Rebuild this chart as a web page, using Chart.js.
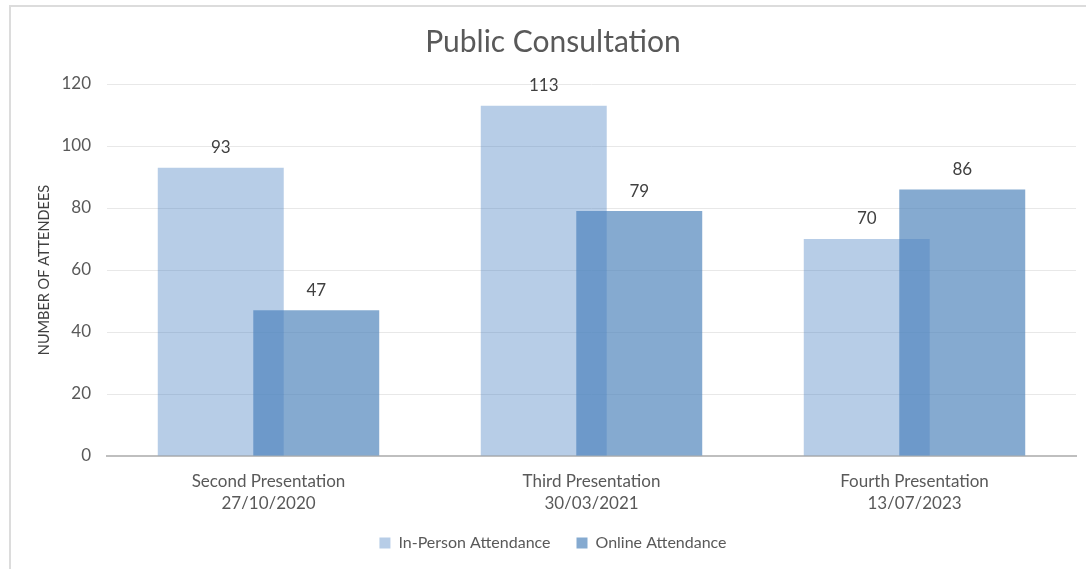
<!DOCTYPE html>
<html>
<head>
<meta charset="utf-8">
<script src="https://cdn.jsdelivr.net/npm/chart.js@4.4.0/dist/chart.umd.min.js"></script>
<style>
  html, body { margin: 0; padding: 0; background: #fff; }
  #wrap { position: relative; width: 1086px; height: 569px; overflow: hidden; }
  #frame { position: absolute; left: 9px; top: 5px; width: 1100px; height: 600px;
           border-top: 2px solid #dcdcdc; border-left: 2px solid #dcdcdc; }
  #c { position: absolute; left: 0; top: 0; }
</style>
</head>
<body>
<div id="wrap">
  <div id="frame"></div>
  <canvas id="c" width="1086" height="569"></canvas>
</div>
<script>
var categories = [
    ["Second Presentation", "27/10/2020"],
    ["Third Presentation", "30/03/2021"],
    ["Fourth Presentation", "13/07/2023"]
];
var inPerson = [93, 113, 70];
var online = [47, 79, 86];
var yTicks = [0, 20, 40, 60, 80, 100, 120];

var FONT = "Lato, 'Open Sans', sans-serif";

// values drawn above each bar
var barValues = {
    id: "barValues",
    afterDatasetsDraw: function (chart) {
        var ctx = chart.ctx;
        ctx.save();
        ctx.font = "17px " + FONT;
        ctx.fillStyle = "#404040";
        ctx.textAlign = "center";
        ctx.textBaseline = "middle";
        chart.data.datasets.forEach(function (ds, i) {
            var meta = chart.getDatasetMeta(i);
            meta.data.forEach(function (bar, j) {
                ctx.fillText(ds.data[j], bar.x, bar.y - 20);
            });
        });
        ctx.restore();
    }
};

var data = {
    labels: categories,
    datasets: [
        {
            label: "In-Person Attendance",
            backgroundColor: "rgba(75, 130, 195, 0.4)",
            data: inPerson
        },
        {
            label: "Online Attendance",
            backgroundColor: "rgba(75, 130, 185, 0.68)",
            data: online
        }
    ]
};

var options = {
    responsive: false,
    animation: false,
    categoryPercentage: 0.5913,
    barPercentage: 1.319,
    layout: {
        padding: { left: 30, right: 10, bottom: 8 }
    },
    scales: {
        x: {
            grid: { display: false },
            border: { color: "#bfbfbf", width: 2 },
            ticks: {
                color: "#595959",
                font: { family: FONT, size: 17, lineHeight: 1.3 },
                padding: 6,
                maxRotation: 0
            },
            afterFit: function (scale) { scale.height = 53; }
        },
        y: {
            min: 0,
            max: 120,
            afterBuildTicks: function (scale) {
                scale.ticks = yTicks.map(function (v) { return { value: v }; });
            },
            grid: {
                color: "#e8e8e8",
                drawTicks: false
            },
            border: { display: false },
            ticks: {
                color: "#595959",
                font: { family: FONT, size: 17 },
                padding: 16
            },
            title: {
                display: true,
                text: "NUMBER OF ATTENDEES",
                color: "#404040",
                font: { family: FONT, size: 14.5 },
                padding: { top: 6, bottom: 0 }
            },
            afterFit: function (scale) { scale.width = 77; }
        }
    },
    plugins: {
        title: {
            display: true,
            text: "Public Consultation",
            color: "#595959",
            font: { family: FONT, size: 30, weight: "normal" },
            padding: { top: 24, bottom: 24 }
        },
        legend: {
            position: "bottom",
            labels: {
                color: "#595959",
                font: { family: FONT, size: 16 },
                boxWidth: 11,
                boxHeight: 11,
                padding: 26
            }
        },
        tooltip: { enabled: false }
    }
};

var ctx = document.getElementById("c").getContext("2d");
var chart = new Chart(ctx, {
    type: "bar",
    data: data,
    options: options,
    plugins: [barValues]
});
</script>
</body>
</html>
